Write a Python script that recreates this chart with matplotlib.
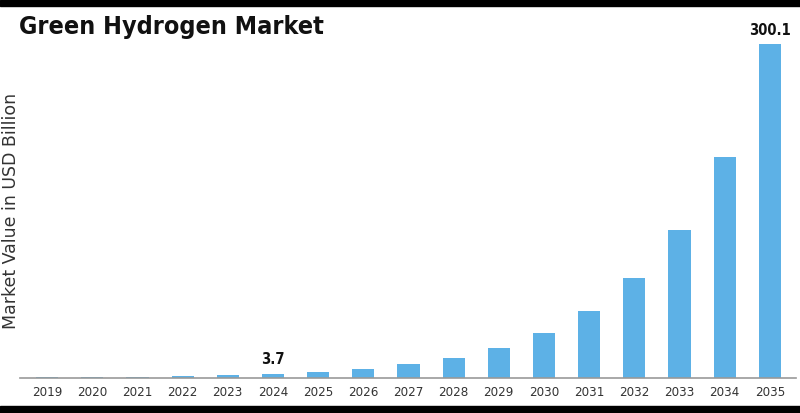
import matplotlib
matplotlib.use("Agg")
import matplotlib.pyplot as plt
from matplotlib.patches import Rectangle

# valores (USD bilhoes)
anos = ["2019", "2020", "2021", "2022", "2023", "2024", "2025", "2026", "2027",
        "2028", "2029", "2030", "2031", "2032", "2033", "2034", "2035"]
valores = [0.5, 0.75, 1.1, 1.7, 2.5, 3.7, 5.5, 8.2, 12.2, 18.2, 27.0, 40.3,
           60.0, 89.5, 133.5, 199.0, 300.1]
rotulos = {"2024": "3.7", "2035": "300.1"}

AZUL = "#5DB1E6"

fig = plt.figure(figsize=(8.0, 4.13), dpi=100)
ax = fig.add_axes([0.025, 0.085, 0.97, 0.845])

x = range(len(anos))
ax.bar(x, valores, width=0.49, color=AZUL, zorder=2)
ax.set_xlim(-0.6, len(anos) - 0.42)
ax.set_ylim(0, 314)

for i, (a, v) in enumerate(zip(anos, valores)):
    if a in rotulos:
        ax.text(i, v + 6, rotulos[a], ha="center", va="bottom", fontsize=10.5,
                fontweight="bold", fontstretch="condensed", color="#111111",
                clip_on=False)

ax.set_xticks(list(x))
ax.set_xticklabels(anos, fontsize=9.5, fontstretch="condensed", color="#333333")
ax.tick_params(axis="x", length=0, pad=6)
ax.set_yticks([])
for s in ["top", "right", "left"]:
    ax.spines[s].set_visible(False)
ax.spines["bottom"].set_color("#999999")
ax.spines["bottom"].set_linewidth(1.2)

# rotulo do eixo y posicionado na figura para nao ser cortado
fig.text(11 / 800, 0.49, "Market Value in USD Billion", rotation=90, fontsize=12.5,
         color="#333333", ha="center", va="center")

fig.text(0.024, 0.935, "Green Hydrogen Market", fontsize=18, fontweight="bold",
         fontstretch="condensed", color="#111111", va="center", ha="left")

# faixas pretas no topo e no rodape
fig.add_artist(Rectangle((0, 1 - 6 / 413), 1, 6 / 413, transform=fig.transFigure,
                         color="black", zorder=10))
fig.add_artist(Rectangle((0, 0), 1, 7 / 413, transform=fig.transFigure,
                         color="black", zorder=10))

fig.savefig("out.png", dpi=100, facecolor="white")
